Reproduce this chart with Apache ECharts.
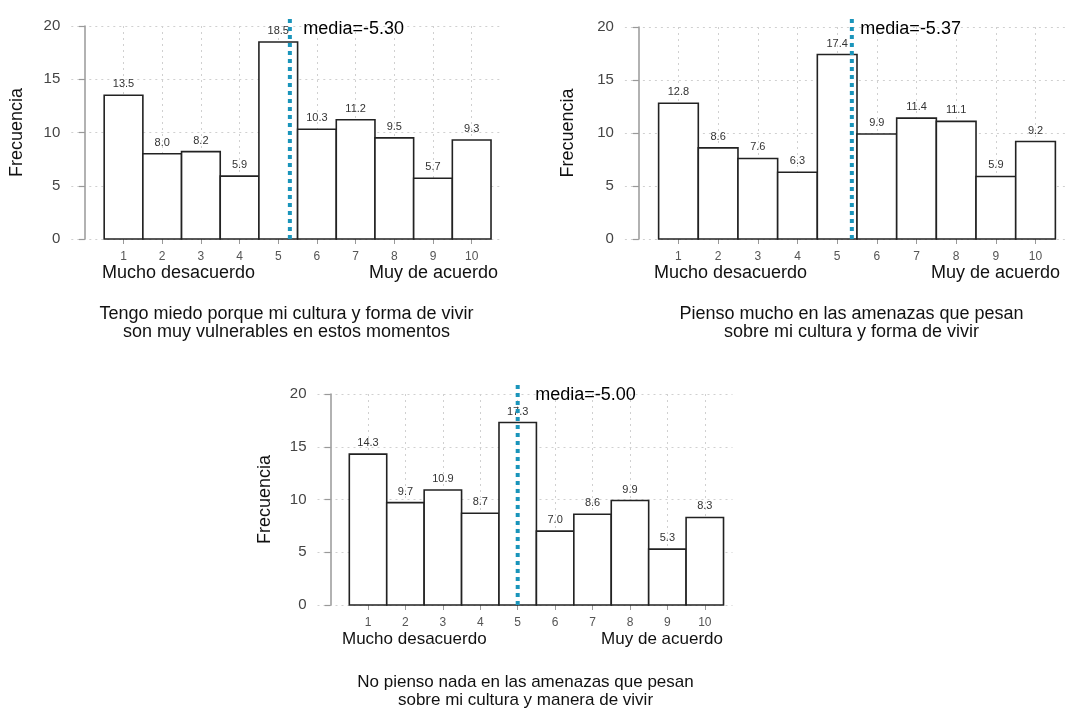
<!DOCTYPE html>
<html>
<head>
<meta charset="utf-8">
<script src="https://cdn.jsdelivr.net/npm/echarts@6/dist/echarts.min.js"></script>
<style>html,body{margin:0;padding:0;background:#fff;}#c{width:1067px;height:708px;}</style>
</head>
<body>
<div id="c"></div>
<script>
// ---- data ----
var categories = [1, 2, 3, 4, 5, 6, 7, 8, 9, 10];
var freq1 = [13.5, 8.0, 8.2, 5.9, 18.5, 10.3, 11.2, 9.5, 5.7, 9.3];
var freq2 = [12.8, 8.6, 7.6, 6.3, 17.4, 9.9, 11.4, 11.1, 5.9, 9.2];
var freq3 = [14.3, 9.7, 10.9, 8.7, 17.3, 7.0, 8.6, 9.9, 5.3, 8.3];
var means = [5.30, 5.37, 5.00];
var meanLabels = ['media=-5.30', 'media=-5.37', 'media=-5.00'];
var yTicks = [0, 5, 10, 15, 20];
var titles = [
  'Tengo miedo porque mi cultura y forma de vivir\nson muy vulnerables en estos momentos',
  'Pienso mucho en las amenazas que pesan\nsobre mi cultura y forma de vivir',
  'No pienso nada en las amenazas que pesan\nsobre mi cultura y manera de vivir'
];
var leftLabel = 'Mucho desacuerdo';
var rightLabel = 'Muy de acuerdo';
var yName = 'Frecuencia';
var allFreq = [freq1, freq2, freq3];

// ---- layout ----
var FONT = '"Liberation Sans", Arial, sans-serif';
var L = [
  {left: 71.3, top: 26, w: 429, h: 213, lineTop: 17, tx: 286.5, ty: 305, lblL: 102, lblR: 498, lblY: 274, fs: 18, nameGap: 45, medDist: 13},
  {left: 624.9, top: 27, w: 440, h: 212, lineTop: 17, tx: 851.5, ty: 305, lblL: 654, lblR: 1060, lblY: 274, fs: 18, nameGap: 48, medDist: 8},
  {left: 317.5, top: 394, w: 415, h: 211, lineTop: 383, tx: 525.5, ty: 673, lblL: 342, lblR: 723, lblY: 641, fs: 17, nameGap: 43, medDist: 17}
];
var XMIN = -0.35, XMAX = 10.74;
var CLEAR = 'rgba(0,0,0,0)';

var grid = [], xAxis = [], yAxis = [], series = [], graphic = [];

function renderBar(params, api) {
  var x = api.value(0), y = api.value(1);
  var p0 = api.coord([x - 0.5, 0]);
  var p1 = api.coord([x + 0.5, y]);
  return {
    type: 'rect',
    shape: {x: p0[0], y: p1[1], width: p1[0] - p0[0], height: p0[1] - p1[1]},
    style: {fill: '#ffffff', stroke: '#222222', lineWidth: 1.6}
  };
}

L.forEach(function (g, i) {
  grid.push({left: g.left, top: g.top, width: g.w, height: g.h, containLabel: false});
  xAxis.push({
    type: 'value', gridIndex: i, min: XMIN, max: XMAX,
    axisLine: {show: false},
    axisTick: {show: true, customValues: categories, length: 5, lineStyle: {color: '#999', width: 1}},
    axisLabel: {customValues: categories, margin: 12, fontSize: 12, color: '#555', fontFamily: FONT},
    splitLine: {show: true, lineStyle: {color: '#d0d0d0', type: [2, 4], width: 1}}
  });
  yAxis.push({
    type: 'value', gridIndex: i, min: 0, max: 20, interval: 5,
    name: yName, nameLocation: 'middle', nameGap: g.nameGap,
    nameTextStyle: {fontSize: 18, color: '#111', fontFamily: FONT},
    axisLine: {show: true, lineStyle: {color: '#999', width: 1.5}},
    axisTick: {show: true, length: 6, lineStyle: {color: '#999', width: 1.2}},
    axisLabel: {fontSize: 15, color: '#444', margin: 11, fontFamily: FONT},
    splitLine: {show: true, lineStyle: {color: '#d0d0d0', type: [2, 4], width: 1}}
  });
  var pts = categories.map(function (c, k) { return [c, allFreq[i][k]]; });
  series.push({
    type: 'custom', xAxisIndex: i, yAxisIndex: i, renderItem: renderBar,
    data: pts, z: 2, silent: true
  });
  series.push({
    type: 'scatter', xAxisIndex: i, yAxisIndex: i, data: pts, symbolSize: 1,
    itemStyle: {color: CLEAR}, z: 3, silent: true,
    labelLayout: {hideOverlap: false},
    label: {show: true, position: 'top', distance: 5, fontSize: 11, color: '#333', opacity: 1, fontFamily: FONT,
      formatter: function (p) { return p.value[1].toFixed(1); }}
  });
});

L.forEach(function (g, i) {
  var gi = 3 + i;
  grid.push({left: g.left, top: g.lineTop, width: g.w, height: g.top + g.h - g.lineTop, containLabel: false});
  xAxis.push({type: 'value', gridIndex: gi, min: XMIN, max: XMAX, show: false, splitLine: {show: false}});
  yAxis.push({type: 'value', gridIndex: gi, min: 0, max: 1, show: false, splitLine: {show: false}});
  series.push({
    type: 'line', xAxisIndex: gi, yAxisIndex: gi, data: [[means[i], 0], [means[i], 1]],
    symbol: 'none', z: 5, silent: true,
    lineStyle: {color: '#1b95bb', width: 4, type: [4, 4]}
  });
  series.push({
    type: 'scatter', xAxisIndex: gi, yAxisIndex: gi, data: [[means[i], 0.945]],
    symbolSize: 1, itemStyle: {color: CLEAR}, z: 6, silent: true,
    label: {show: true, position: 'right', distance: g.medDist, fontSize: 18, color: '#000', opacity: 1, fontFamily: FONT,
      formatter: meanLabels[i]}
  });
  graphic.push({type: 'text', left: g.lblL, top: g.lblY - 10,
    style: {text: leftLabel, fill: '#111', font: g.fs + 'px ' + FONT}});
  graphic.push({type: 'text', right: 1067 - g.lblR, top: g.lblY - 10,
    style: {text: rightLabel, fill: '#111', font: g.fs + 'px ' + FONT}});
  graphic.push({type: 'text', x: g.tx, y: g.ty,
    style: {text: titles[i], fill: '#111', font: g.fs + 'px ' + FONT, textAlign: 'center', textVerticalAlign: 'top', lineHeight: 18}});
});

var chart = echarts.init(document.getElementById('c'), null, {renderer: 'canvas'});
chart.setOption({
  animation: false,
  backgroundColor: '#ffffff',
  textStyle: {fontFamily: FONT},
  grid: grid, xAxis: xAxis, yAxis: yAxis, series: series, graphic: graphic
});
</script>
</body>
</html>
